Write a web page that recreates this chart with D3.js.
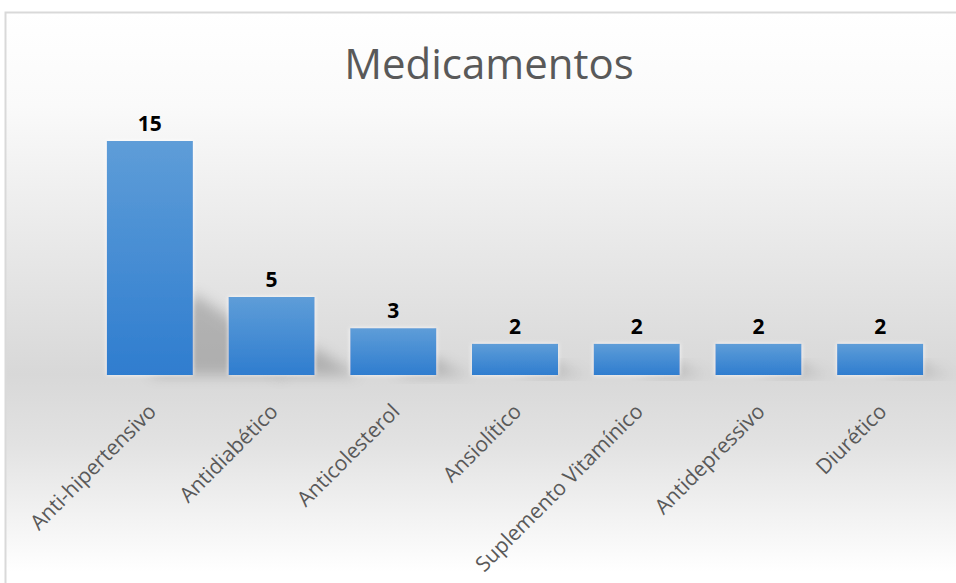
<!DOCTYPE html>
<html>
<head>
<meta charset="utf-8">
<script src="https://cdn.jsdelivr.net/npm/d3@7"></script>
<style>
  body { margin: 0; background: #fff; }
</style>
</head>
<body>
<div class="canvas"></div>
<script>
const categories = ['Anti-hipertensivo', 'Antidiabético', 'Anticolesterol', 'Ansiolítico',
  'Suplemento Vitamínico', 'Antidepressivo', 'Diurético'];
const values = [15, 5, 3, 2, 2, 2, 2];
const title = 'Medicamentos';

const width = 956, height = 583;
const baseY = 375;

const svg = d3.select('.canvas')
  .append('svg')
  .attr('width', width)
  .attr('height', height)
  .style('display', 'block');

const defs = svg.append('defs');

// chart area background: white at top, grey around the baseline, white again at bottom
const bg = defs.append('linearGradient')
  .attr('id', 'bg')
  .attr('x1', 0).attr('y1', 0).attr('x2', 0).attr('y2', 1);
bg.append('stop').attr('offset', '0%').attr('stop-color', '#ffffff');
bg.append('stop').attr('offset', '16%').attr('stop-color', '#fafafa');
bg.append('stop').attr('offset', '62%').attr('stop-color', '#d8d8d8');
bg.append('stop').attr('offset', '74%').attr('stop-color', '#e2e2e2');
bg.append('stop').attr('offset', '96%').attr('stop-color', '#ffffff');

const barGrad = defs.append('linearGradient')
  .attr('id', 'bar')
  .attr('x1', 0).attr('y1', 0).attr('x2', 0).attr('y2', 1);
barGrad.append('stop').attr('offset', '0%').attr('stop-color', '#5e9dd8');
barGrad.append('stop').attr('offset', '100%').attr('stop-color', '#2f7dcf');

const blur = defs.append('filter')
  .attr('id', 'blur')
  .attr('x', '-50%').attr('y', '-50%').attr('width', '200%').attr('height', '200%');
blur.append('feGaussianBlur').attr('stdDeviation', 7);

const glow = defs.append('filter')
  .attr('id', 'glow')
  .attr('x', '-20%').attr('y', '-20%').attr('width', '140%').attr('height', '140%');
glow.append('feGaussianBlur').attr('in', 'SourceAlpha').attr('stdDeviation', 2).attr('result', 'b');
glow.append('feFlood').attr('flood-color', '#ffffff').attr('flood-opacity', 0.9);
glow.append('feComposite').attr('in2', 'b').attr('operator', 'in').attr('result', 'g');
const merge = glow.append('feMerge');
merge.append('feMergeNode').attr('in', 'g');
merge.append('feMergeNode').attr('in', 'SourceGraphic');

svg.append('rect')
  .attr('x', 5.5).attr('y', 12.5)
  .attr('width', width).attr('height', height)
  .attr('fill', 'url(#bg)')
  .attr('stroke', '#d9d9d9')
  .attr('stroke-width', 2);

const x = d3.scaleBand()
  .domain(categories)
  .range([89, 941])
  .paddingInner(0.293)
  .paddingOuter(0.1465);

const y = d3.scaleLinear()
  .domain([0, 15])
  .range([baseY, 141]);

// soft shadows falling to the right of each bar
svg.append('g')
  .selectAll('path')
  .data(values)
  .join('path')
  .attr('d', (d, i) => {
    const x0 = x(categories[i]) + x.bandwidth() * 0.5;
    const x1 = x(categories[i]) + x.bandwidth();
    const h = (baseY - y(d)) * 0.35;
    return `M${x0},${baseY} L${x1},${baseY - h} L${x1 + h * 0.9},${baseY - h * 0.4} L${x1 + h * 0.9 + 20},${baseY} Z`;
  })
  .attr('fill', '#6a6a6a')
  .attr('opacity', 0.38)
  .attr('filter', 'url(#blur)');

svg.append('g')
  .selectAll('rect')
  .data(values)
  .join('rect')
  .attr('x', (d, i) => x(categories[i]))
  .attr('y', d => y(d))
  .attr('width', x.bandwidth())
  .attr('height', d => baseY - y(d))
  .attr('fill', 'url(#bar)')
  .attr('filter', 'url(#glow)');

svg.append('g')
  .selectAll('text')
  .data(values)
  .join('text')
  .attr('x', (d, i) => x(categories[i]) + x.bandwidth() / 2)
  .attr('y', d => y(d) - 10)
  .attr('text-anchor', 'middle')
  .attr('font-family', '"Open Sans", sans-serif')
  .attr('font-weight', 'bold')
  .attr('font-size', 21)
  .attr('fill', '#000')
  .text(d => d);

const xAxis = svg.append('g')
  .attr('transform', `translate(0,${baseY})`)
  .call(d3.axisBottom(x).tickSize(0).tickPadding(0));
xAxis.select('.domain').remove();
xAxis.selectAll('text')
  .attr('font-family', '"Open Sans", sans-serif')
  .attr('font-size', 21)
  .attr('fill', '#595959')
  .attr('text-anchor', 'end')
  .attr('dy', '0.72em')
  .attr('transform', 'translate(-3,27) rotate(-45)');

svg.append('text')
  .attr('x', 489)
  .attr('y', 79)
  .attr('text-anchor', 'middle')
  .attr('font-family', '"Open Sans", sans-serif')
  .attr('font-size', 42)
  .attr('fill', '#595959')
  .text(title);
</script>
</body>
</html>
